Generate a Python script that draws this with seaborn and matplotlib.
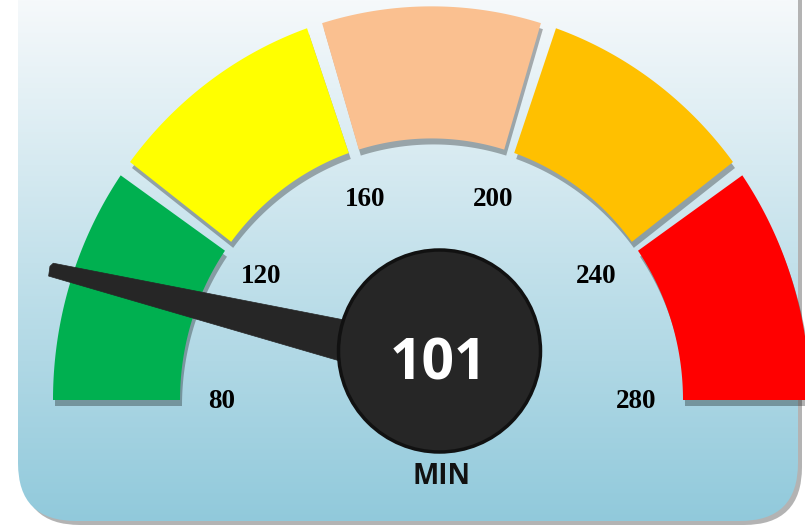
import numpy as np
import matplotlib
matplotlib.use("Agg")
import matplotlib.pyplot as plt
import seaborn as sns
from matplotlib.patches import Polygon, Circle, FancyBboxPatch
from matplotlib.colors import to_rgb

# ---------------- data ----------------
band_edges = [80, 120, 160, 200, 240, 280]
band_colors = ["#00B050", "#FFFF00", "#FAC090", "#FFC000", "#FF0000"]
tick_values = [80, 120, 160, 200, 240, 280]
tick_labels = ["80", "120", "160", "200", "240", "280"]
value = 101
unit_label = "MIN"

sns.set_theme(style="white")
plt.rcParams["font.family"] = ["DejaVu Sans"]
palette = sns.color_palette(band_colors)

W, H = 805, 526
fig = plt.figure(figsize=(W / 100, H / 100), dpi=100)
ax = fig.add_axes([0, 0, 1, 1])
ax.axis("off")

# ---------------- layout ----------------
CX, CY = 431.5, 400.0
KY = 1.04
R_OUT, R_IN = 378.5, 251.5
GAP = np.deg2rad(1.2)
vmin, vmax = band_edges[0], band_edges[-1]


def ang(v):
    return np.pi * (1 - (v - vmin) / (vmax - vmin))


def arc_pts(r, a0, a1, n=120):
    t = np.linspace(a0, a1, n)
    return np.column_stack([CX + r * np.cos(t), CY - KY * r * np.sin(t)])


# ---------------- panel ----------------
px0, px1, py0, py1, rad = 18, 798, -80, 521, 58
shadow = FancyBboxPatch((px0 + 4, py0 + 4), px1 - px0, py1 - py0,
                        boxstyle=f"round,pad=0,rounding_size={rad}",
                        fc="#b3b3b3", ec="none", zorder=0)
ax.add_patch(shadow)
panel = FancyBboxPatch((px0, py0), px1 - px0, py1 - py0,
                       boxstyle=f"round,pad=0,rounding_size={rad}",
                       fc="none", ec="none", zorder=1)
ax.add_patch(panel)
top_c = np.array(to_rgb("#f6f9fb"))
bot_c = np.array(to_rgb("#90c9db"))
yy = np.linspace(0, 1, 400)[:, None, None]
grad = top_c[None, None, :] * (1 - yy) + bot_c[None, None, :] * yy
im = ax.imshow(grad, extent=(0, W, H, 0), origin="upper", aspect="auto", zorder=1)
im.set_clip_path(panel)

# ---------------- bands ----------------
for i, col in enumerate(palette):
    a0 = ang(band_edges[i]) - (GAP if i > 0 else 0)
    a1 = ang(band_edges[i + 1]) + (GAP if i < len(palette) - 1 else 0)
    pts = np.vstack([arc_pts(R_OUT, a0, a1), arc_pts(R_IN, a1, a0)])
    ax.add_patch(Polygon(pts + np.array([2, 6]), closed=True, fc="black",
                         alpha=0.3, ec="none", zorder=2))
    ax.add_patch(Polygon(pts, closed=True, fc=col, ec="none", zorder=3))

# ---------------- tick labels ----------------
LCX, LCY, LRX, LRY = 429, 400, 207, 213
for v, lab in zip(tick_values, tick_labels):
    a = ang(v)
    ax.text(LCX + LRX * np.cos(a), LCY - LRY * np.sin(a) + 2, lab,
            ha="center", va="center", fontsize=19.5, fontweight="bold",
            family=["Liberation Serif"], color="black", zorder=4)

# ---------------- needle ----------------
HUB_X, HUB_Y, HUB_R = 439.5, 351, 101
R_TIP = 403
th = ang(value)
T = np.array([CX + R_TIP * np.cos(th), CY - R_TIP * np.sin(th)])
B = np.array([HUB_X, HUB_Y + 13])
u = (T - B) / np.linalg.norm(T - B)
n = np.array([-u[1], u[0]])
needle = np.array([B + n * 25, T + n * 6.8 - u * 1.5, T + n * 3.0 + u * 1.0,
                   T - n * 6.8, B - n * 25])
ax.add_patch(Polygon(needle, closed=True, fc="#262626", ec="#262626",
                     lw=0.5, zorder=5))

# ---------------- hub ----------------
ax.add_patch(Circle((HUB_X, HUB_Y), HUB_R, fc="#262626", ec="#111111",
                    lw=2.5, zorder=6))
ax.text(HUB_X - 1, HUB_Y + 13, str(value), ha="center", va="center",
        fontsize=41, fontweight="bold", family=["Open Sans"], color="white",
        zorder=7)
ax.text(HUB_X + 1.5, 477, unit_label, ha="center", va="center",
        fontsize=20, fontweight="bold", family=["Open Sans"], color="#111111",
        zorder=7)

ax.set_xlim(0, W)
ax.set_ylim(H, 0)
fig.savefig("out.png", dpi=100, facecolor="white")
